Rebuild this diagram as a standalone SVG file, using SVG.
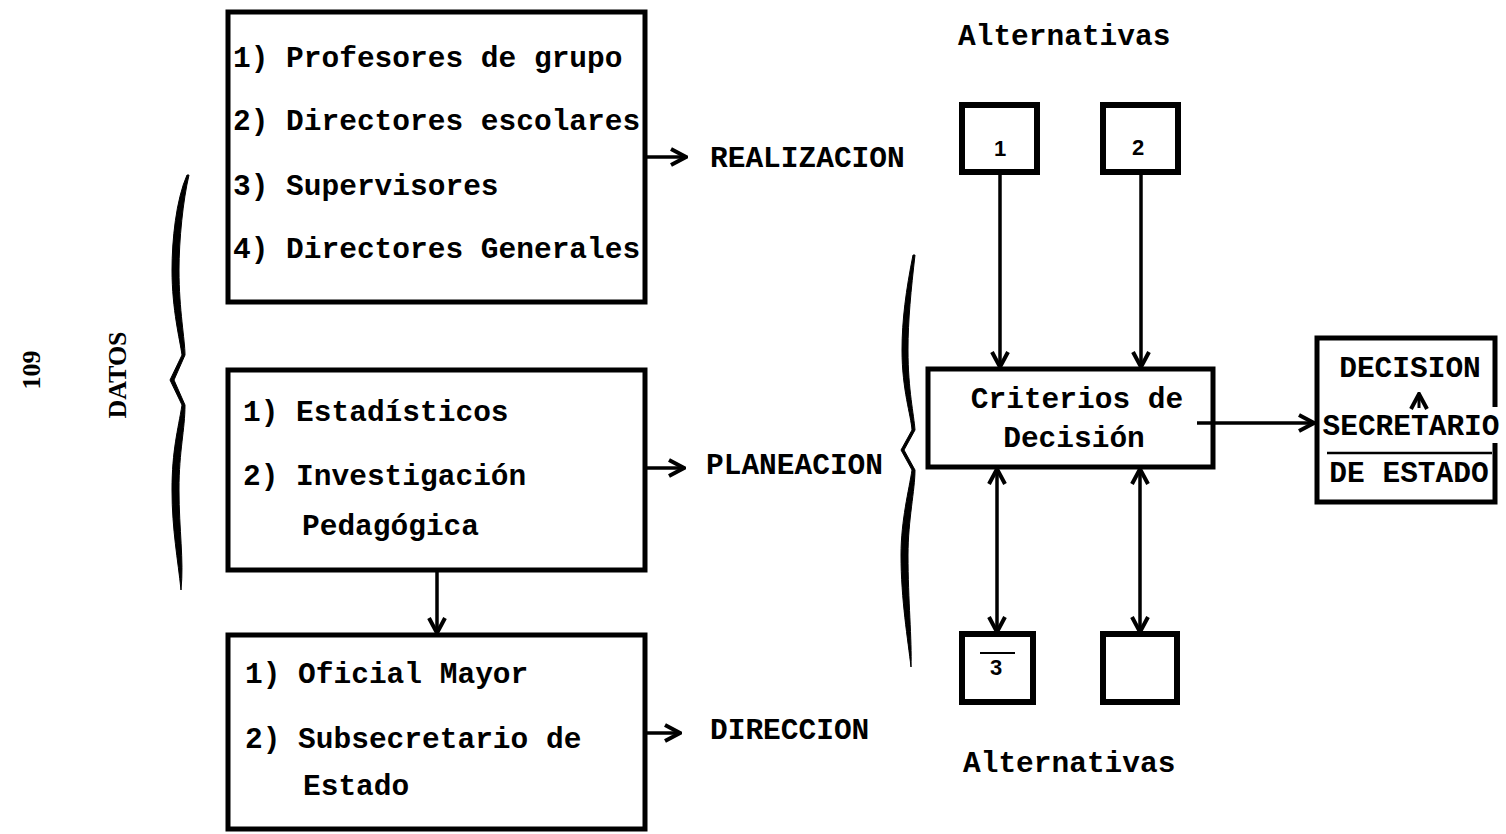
<svg xmlns="http://www.w3.org/2000/svg" width="1506" height="834" viewBox="0 0 1506 834">
<defs>
<style>
.box{fill:none;stroke:#000;stroke-width:5;stroke-linejoin:miter}
.sbox{fill:none;stroke:#000;stroke-width:6}
.t{font-family:"Liberation Mono","Courier New",monospace;font-weight:bold;font-size:29.5px;fill:#000}
.d{font-family:"Liberation Sans",Arial,sans-serif;font-weight:bold;font-size:22px;fill:#000}
.s{font-family:"Liberation Serif","Times New Roman",serif;font-weight:bold;font-size:26px;fill:#000}
.c{fill:none;stroke:#000;stroke-width:3.5}
.br{fill:#000;stroke:#000;stroke-width:1}
</style>
<marker id="ah" viewBox="0 0 20 20" refX="18" refY="10" markerWidth="20" markerHeight="20" markerUnits="userSpaceOnUse" orient="auto-start-reverse">
<path d="M3,2 L18,10 L3,18" fill="none" stroke="#000" stroke-width="4" stroke-linejoin="miter"/>
</marker>
</defs>
<rect width="1506" height="834" fill="#fff"/>

<g id="page-number">
<text class="s" transform="translate(40,370) rotate(-90)" text-anchor="middle">109</text>
</g>

<g id="datos">
<text class="s" transform="translate(126,375) rotate(-90)" text-anchor="middle">DATOS</text>
<path class="br" d="M187,175 C176,200 172,240 172,270 C172,310 180,340 182,355 L170,380 L182,405 C178,430 172,450 172,490 C172,530 178,560 181,590 C184,560 179,530 179,490 C179,450 185,430 185,405 L174,380 L185,355 C185,340 179,310 179,270 C179,240 183,200 189,175 Z"/>
</g>

<g id="box-realizacion">
<rect class="box" x="228" y="12" width="417" height="290"/>
<text class="t" x="233" y="67">1) Profesores de grupo</text>
<text class="t" x="233" y="130">2) Directores escolares</text>
<text class="t" x="233" y="195">3) Supervisores</text>
<text class="t" x="233" y="258">4) Directores Generales</text>
</g>

<g id="box-planeacion">
<rect class="box" x="228" y="370" width="417" height="200"/>
<text class="t" x="243" y="421">1) Estadísticos</text>
<text class="t" x="243" y="485">2) Investigación</text>
<text class="t" x="302" y="535">Pedagógica</text>
</g>

<g id="box-direccion">
<rect class="box" x="228" y="635" width="417" height="194"/>
<text class="t" x="245" y="683">1) Oficial Mayor</text>
<text class="t" x="245" y="748">2) Subsecretario de</text>
<text class="t" x="303" y="795">Estado</text>
</g>

<g id="labels">
<text class="t" x="710" y="167">REALIZACION</text>
<text class="t" x="706" y="474">PLANEACION</text>
<text class="t" x="710" y="739">DIRECCION</text>
<text class="t" x="958" y="45">Alternativas</text>
<text class="t" x="963" y="772">Alternativas</text>
</g>

<g id="brace-right">
<path class="br" d="M913,255 C906,290 902,320 902,350 C902,390 911,415 912,430 L901,450 L912,470 C909,490 901,520 901,555 C901,600 908,640 911,667 C912,640 908,600 908,555 C908,520 915,490 915,470 L904,450 L915,430 C914,415 908,390 908,350 C908,320 911,290 915,255 Z"/>
</g>

<g id="alt-1">
<rect class="sbox" x="962" y="105" width="75" height="67"/>
<text class="d" x="1000" y="156" text-anchor="middle">1</text>
</g>
<g id="alt-2">
<rect class="sbox" x="1103" y="105" width="75" height="67"/>
<text class="d" x="1138" y="155" text-anchor="middle">2</text>
</g>
<g id="alt-3">
<rect class="sbox" x="962" y="634" width="71" height="68"/>
<line x1="980" y1="653" x2="1015" y2="653" stroke="#000" stroke-width="2"/>
<text class="d" x="996" y="675" text-anchor="middle">3</text>
</g>
<g id="alt-4">
<rect class="sbox" x="1103" y="634" width="74" height="68"/>
</g>

<g id="criterios">
<rect class="box" x="928" y="369" width="285" height="98"/>
<text class="t" x="1077" y="408" text-anchor="middle">Criterios de</text>
<text class="t" x="1074" y="447" text-anchor="middle">Decisión</text>
</g>

<g id="decision">
<path class="box" d="M1495,407 L1495,338 L1317,338 L1317,502 L1495,502 L1495,443"/>
<text class="t" x="1410" y="377" text-anchor="middle">DECISION</text>
<line x1="1327" y1="453" x2="1492" y2="453" stroke="#000" stroke-width="2.5"/>
<text class="t" x="1411" y="435" text-anchor="middle">SECRETARIO</text>
<text class="t" x="1409" y="482" text-anchor="middle">DE ESTADO</text>
</g>

<g id="connectors">
<line class="c" x1="645" y1="157" x2="686" y2="157" marker-end="url(#ah)"/>
<line class="c" x1="645" y1="468" x2="684" y2="468" marker-end="url(#ah)"/>
<line class="c" x1="645" y1="733" x2="680" y2="733" marker-end="url(#ah)"/>
<line class="c" x1="437" y1="570" x2="437" y2="633" marker-end="url(#ah)"/>
<line class="c" x1="1000" y1="172" x2="1000" y2="367" marker-end="url(#ah)"/>
<line class="c" x1="1141" y1="172" x2="1141" y2="367" marker-end="url(#ah)"/>
<line class="c" x1="997" y1="469" x2="997" y2="632" marker-start="url(#ah)" marker-end="url(#ah)"/>
<line class="c" x1="1140" y1="469" x2="1140" y2="632" marker-start="url(#ah)" marker-end="url(#ah)"/>
<line class="c" x1="1197" y1="423" x2="1314" y2="423" marker-end="url(#ah)"/>
<line x1="1419" y1="408" x2="1419" y2="394" stroke="#000" stroke-width="3" marker-end="url(#ah)"/>
</g>
</svg>
